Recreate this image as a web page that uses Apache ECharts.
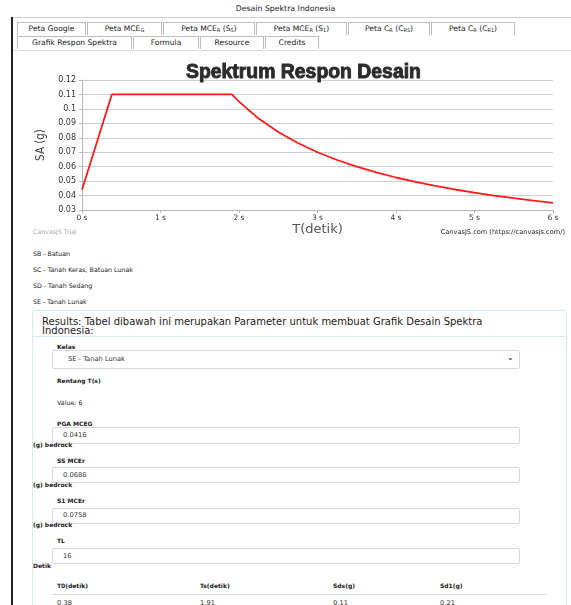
<!DOCTYPE html>
<html>
<head>
<meta charset="utf-8">
<script src="https://cdn.jsdelivr.net/npm/echarts@6/dist/echarts.min.js"></script>
<style>
html,body{margin:0;padding:0;background:#fff;width:571px;height:605px;overflow:hidden;font-family:"DejaVu Sans",Verdana,sans-serif;color:#222;}
.abs{position:absolute;white-space:nowrap;}
#page{position:absolute;left:0;top:0;width:571px;height:605px;}
.tab{position:absolute;height:12px;border:1px solid #bdbdbd;border-bottom:none;font-size:7.6px;line-height:12px;text-align:center;background:#fff;color:#1a1a1a;}
.tab sub{font-size:5px;vertical-align:-1px;}
.lbl{position:absolute;font-size:6px;font-weight:bold;color:#1a1a1a;}
.small{position:absolute;font-size:6.3px;color:#1a1a1a;}
.box{position:absolute;border:1px solid #d8d8d8;border-radius:2px;background:#fff;}
.boxt{position:absolute;font-size:6.7px;color:#333;}
#chart{position:absolute;left:0;top:0;width:571px;height:605px;}
</style>
</head>
<body>
<div id="page">
  <div class="abs" style="left:0;width:571px;top:4px;text-align:center;font-size:7.8px;color:#1a1a1a;">Desain Spektra Indonesia</div>
  <div class="abs" style="left:11px;top:17px;width:2px;height:588px;background:#222;"></div>
  <div class="abs" style="left:13px;top:17px;width:558px;height:1px;background:#ccc;"></div>
  <div class="abs" style="left:13px;top:50px;width:558px;height:1px;background:#ddd;"></div>

  <div class="tab" style="left:17px;top:22px;width:67px;">Peta Google</div>
  <div class="tab" style="left:87px;top:22px;width:73px;">Peta MCE<sub>G</sub></div>
  <div class="tab" style="left:163px;top:22px;width:90px;">Peta MCE<sub>R</sub> (S<sub>S</sub>)</div>
  <div class="tab" style="left:256px;top:22px;width:89px;">Peta MCE<sub>R</sub> (S<sub>1</sub>)</div>
  <div class="tab" style="left:348px;top:22px;width:80px;">Peta C<sub>R</sub> (C<sub>RS</sub>)</div>
  <div class="tab" style="left:431px;top:22px;width:82px;">Peta C<sub>R</sub> (C<sub>R1</sub>)</div>
  <div class="tab" style="left:17px;top:36px;width:113px;">Grafik Respon Spektra</div>
  <div class="tab" style="left:133px;top:36px;width:64px;">Formula</div>
  <div class="tab" style="left:200px;top:36px;width:62px;">Resource</div>
  <div class="tab" style="left:265px;top:36px;width:52px;">Credits</div>

  <div class="small" style="left:33px;top:250px;">SB - Batuan</div>
  <div class="small" style="left:33px;top:266px;">SC - Tanah Keras, Batuan Lunak</div>
  <div class="small" style="left:33px;top:282px;">SD - Tanah Sedang</div>
  <div class="small" style="left:33px;top:298px;">SE - Tanah Lunak</div>

  <div class="abs" style="left:32px;top:310px;width:533px;height:300px;border:1px solid #d6eaf2;border-radius:3px;"></div>
  <div class="abs" style="left:33px;top:336px;width:532px;height:1px;background:#d6eaf2;"></div>
  <div class="abs" style="left:42px;top:317px;font-size:10px;line-height:9px;color:#1a1a1a;white-space:normal;width:445px;">Results: Tabel dibawah ini merupakan Parameter untuk membuat Grafik Desain Spektra Indonesia:</div>

  <div class="lbl" style="left:57px;top:343px;">Kelas</div>
  <div class="box" style="left:52px;top:350px;width:466px;height:17px;"></div>
  <div class="boxt" style="left:68px;top:355px;">SE - Tanah Lunak</div>
  <div class="abs" style="left:507px;top:353px;font-size:8px;font-weight:bold;color:#333;">&#8964;</div>
  <div class="lbl" style="left:57px;top:377px;">Rentang T(s)</div>
  <div class="small" style="left:57px;top:399px;">Value: 6</div>

  <div class="lbl" style="left:57px;top:420px;">PGA MCEG</div>
  <div class="box" style="left:52px;top:427px;width:466px;height:15px;"></div>
  <div class="boxt" style="left:63px;top:431px;">0.0416</div>
  <div class="lbl" style="left:33px;top:441px;">(g) bedrock</div>

  <div class="lbl" style="left:57px;top:457px;">SS MCEr</div>
  <div class="box" style="left:52px;top:467px;width:466px;height:14px;"></div>
  <div class="boxt" style="left:63px;top:471px;">0.0686</div>
  <div class="lbl" style="left:33px;top:481px;">(g) bedrock</div>

  <div class="lbl" style="left:57px;top:497px;">S1 MCEr</div>
  <div class="box" style="left:52px;top:508px;width:466px;height:14px;"></div>
  <div class="boxt" style="left:63px;top:511px;">0.0758</div>
  <div class="lbl" style="left:33px;top:521px;">(g) bedrock</div>

  <div class="lbl" style="left:57px;top:537px;">TL</div>
  <div class="box" style="left:52px;top:548px;width:466px;height:14px;"></div>
  <div class="boxt" style="left:63px;top:552px;">16</div>
  <div class="lbl" style="left:33px;top:562px;">Detik</div>

  <div class="lbl" style="left:57px;top:582px;">T0(detik)</div>
  <div class="lbl" style="left:200px;top:582px;">Ts(detik)</div>
  <div class="lbl" style="left:333px;top:582px;">Sds(g)</div>
  <div class="lbl" style="left:440px;top:582px;">Sd1(g)</div>
  <div class="abs" style="left:52px;top:594px;width:495px;height:1px;background:#ddd;"></div>
  <div class="boxt" style="left:57px;top:599px;">0.38</div>
  <div class="boxt" style="left:200px;top:599px;">1.91</div>
  <div class="boxt" style="left:333px;top:599px;">0.11</div>
  <div class="boxt" style="left:440px;top:599px;">0.21</div>
</div>
<div id="chart"></div>
<script>
// Periods T (s) and spectral acceleration SA (g)
const periods = [0, 0.38, 1.91, 2.0, 2.25, 2.5, 2.75, 3.0, 3.25, 3.5, 3.75, 4.0, 4.25, 4.5, 4.75, 5.0, 5.25, 5.5, 5.75, 6.0];
const saValues = [0.044, 0.11, 0.11, 0.105, 0.0933, 0.084, 0.0764, 0.070, 0.0646, 0.060, 0.056, 0.0525, 0.0494, 0.0467, 0.0442, 0.042, 0.040, 0.0382, 0.0365, 0.035];
const chartTitle = "Spektrum Respon Desain";
const xTitle = "T(detik)";
const yTitle = "SA (g)";

const chart = echarts.init(document.getElementById('chart'), null, {renderer: 'canvas'});
const seriesData = periods.map((t, i) => [t, saValues[i]]);
chart.setOption({
  backgroundColor: 'transparent',
  animation: false,
  title: {
    text: chartTitle,
    left: 181,
    top: 58,
    textStyle: {fontFamily: 'Liberation Sans', fontWeight: 900, fontSize: 19.4, color: '#2b2b2b',
      textBorderColor: '#2b2b2b', textBorderWidth: 0.9}
  },
  grid: {left: 82, right: 18, top: 80, bottom: 395, containLabel: false},
  xAxis: {
    type: 'value', min: 0, max: 6, interval: 1,
    name: xTitle, nameLocation: 'middle', nameGap: 13,
    nameTextStyle: {fontFamily: 'DejaVu Sans', fontSize: 13, color: '#555'},
    axisLine: {show: true, lineStyle: {color: '#b5b5b5', width: 1}},
    axisTick: {show: true, length: 3, lineStyle: {color: '#b5b5b5'}},
    axisLabel: {formatter: '{value} s', fontFamily: 'DejaVu Sans', fontSize: 7.5, color: '#333', margin: 4},
    splitLine: {show: false}
  },
  yAxis: {
    type: 'value', min: 0.03, max: 0.12, interval: 0.01,
    name: yTitle, nameLocation: 'middle', nameGap: 33, nameRotate: 90,
    nameTextStyle: {fontFamily: 'DejaVu Sans Condensed', fontSize: 11.5, color: '#444'},
    axisLine: {show: true, lineStyle: {color: '#b5b5b5', width: 1}},
    axisTick: {show: true, length: 3, lineStyle: {color: '#b5b5b5'}},
    axisLabel: {fontFamily: 'DejaVu Sans', fontSize: 8, color: '#333', margin: 6,
      formatter: v => String(parseFloat(v.toFixed(2)))},
    splitLine: {show: true, lineStyle: {color: '#cfcfcf', width: 1}}
  },
  graphic: [
    {type: 'text', left: 33, top: 229, style: {text: 'CanvasJS Trial', fontSize: 6.3, fill: '#aaa', fontFamily: 'DejaVu Sans'}},
    {type: 'text', right: 6, top: 229, style: {text: 'CanvasJS.com (https://canvasjs.com/)', fontSize: 6.6, fill: '#222', fontFamily: 'DejaVu Sans'}}
  ],
  series: [{
    type: 'line',
    data: seriesData,
    smooth: false,
    showSymbol: false,
    lineStyle: {color: '#ff1a1a', width: 1.8}
  }]
});
</script>
</body>
</html>
